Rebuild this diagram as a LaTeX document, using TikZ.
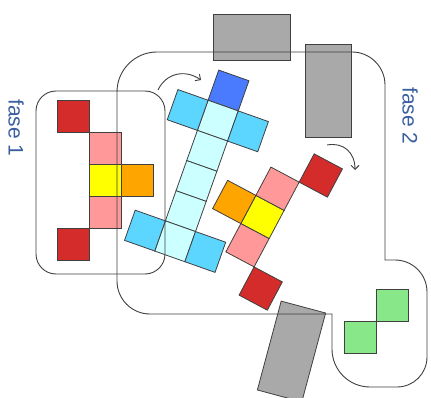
\documentclass[tikz,border=0pt]{standalone}
\usepackage{fontspec}
\setsansfont{Liberation Sans}
\usepackage{xcolor}
\usetikzlibrary{positioning,arrows.meta}
\definecolor{CellRed}{HTML}{D42B2B}
\definecolor{CellPink}{HTML}{FF9999}
\definecolor{CellYellow}{HTML}{FFFF00}
\definecolor{CellOrange}{HTML}{FFA500}
\definecolor{CellBlue}{HTML}{4A7BFF}
\definecolor{CellCyan}{HTML}{5CD6FF}
\definecolor{CellIce}{HTML}{CCFFFF}
\definecolor{CellGreen}{HTML}{88E788}
\definecolor{BlockGray}{HTML}{A9A9A9}
\definecolor{LabelBlue}{HTML}{3A5FA0}
\definecolor{LineGray}{HTML}{404040}

\begin{document}
\begin{tikzpicture}[x=1pt, y=-1pt, node distance=0pt,
    sq/.style={draw=LineGray, line width=0.8pt, minimum size=32pt, inner sep=0pt, outer sep=0pt},
    block/.style={draw=LineGray, line width=0.8pt, fill=BlockGray, inner sep=0pt, outer sep=0pt},
    frame/.style={draw=LineGray, line width=0.9pt},
    turn/.style={draw=LineGray, line width=0.9pt, -{Straight Barb[length=4pt, width=8pt]}},
    phase/.style={font=\sffamily\fontsize{21}{25}\selectfont, text=LabelBlue, rotate=-90}]
        \useasboundingbox (0,0) rectangle (431,398);
        \fill[white] (0,0) rectangle (431,398);

        % fase 1
        \node[sq, fill=CellYellow] (y1) at (105,180.5) {};
        \node[sq, fill=CellPink, above=of y1] (p1a) {};
        \node[sq, fill=CellPink, below=of y1] (p1b) {};
        \node[sq, fill=CellOrange, right=of y1] (o1) {};
        \node[sq, fill=CellRed, above left=of p1a] (r1a) {};
        \node[sq, fill=CellRed, below left=of p1b] (r1b) {};

        % blue piece
        \begin{scope}[shift={(228.5,90.5)}, rotate=-19.5, transform shape]
            \node[sq, fill=CellBlue] (b0) at (0,0) {};
            \node[sq, fill=CellIce, below=of b0] (c1) {};
            \node[sq, fill=CellCyan, left=of c1] (a1l) {};
            \node[sq, fill=CellCyan, right=of c1] (a1r) {};
            \node[sq, fill=CellIce, below=of c1] (c2) {};
            \node[sq, fill=CellIce, below=of c2] (c3) {};
            \node[sq, fill=CellIce, below=of c3] (c4) {};
            \node[sq, fill=CellIce, below=of c4] (c5) {};
            \node[sq, fill=CellCyan, left=of c5] (a5l) {};
            \node[sq, fill=CellCyan, right=of c5] (a5r) {};
        \end{scope}

        % fase 2
        \begin{scope}[shift={(262.5,217)}, rotate=-28, transform shape]
            \node[sq, fill=CellYellow] (y2) at (0,0) {};
            \node[sq, fill=CellPink, above=of y2] (p2a) {};
            \node[sq, fill=CellPink, below=of y2] (p2b) {};
            \node[sq, fill=CellOrange, left=of y2] (o2) {};
            \node[sq, fill=CellRed, above right=of p2a] (r2a) {};
            \node[sq, fill=CellRed, below right=of p2b] (r2b) {};
        \end{scope}

        \node[sq, fill=CellGreen] (g1) at (392.5,305) {};
        \node[sq, fill=CellGreen, below left=of g1] (g2) {};

        % grey blocks
        \node[block, minimum width=77pt, minimum height=46pt] (k1) at (251.5,37) {};
        \node[block, minimum width=46pt, minimum height=93pt] (k2) at (328,90.5) {};
        \node[block, minimum width=46pt, minimum height=92pt, rotate=-15] (k3) at (291.5,351.5) {};

        % outlines
        \draw[frame, rounded corners=20pt] (36,91) rectangle (165,274);
        \draw[frame] (117,281) -- (117,92) .. controls (117,69.9) and (134.9,52) .. (157,52)
            -- (352,52) .. controls (370.2,52) and (385,66.8) .. (385,85)
            -- (385,260) -- (395,260) .. controls (412.7,260) and (427,274.3) .. (427,292)
            -- (427,357) .. controls (427,373.6) and (413.6,387) .. (397,387)
            -- (370,387) .. controls (349,387) and (332,370) .. (332,349)
            -- (332,314) -- (150,314) .. controls (131.8,314) and (117,299.2) .. (117,281) -- cycle;

        % turning arrows
        \coordinate (t1a) at (158,90);
        \coordinate (t1b) at (201,80);
        \coordinate (t2a) at (327,145);
        \coordinate (t2b) at (355,170);
        \draw[turn] (t1a) .. controls (166,73) and (185,69) .. (t1b);
        \draw[turn] (t2a) .. controls (343,142) and (355,152) .. (t2b);

        \node[phase] (f1) at (16,128) {fase 1};
        \node[phase] (f2) at (410,116) {fase 2};
\end{tikzpicture}
\end{document}
